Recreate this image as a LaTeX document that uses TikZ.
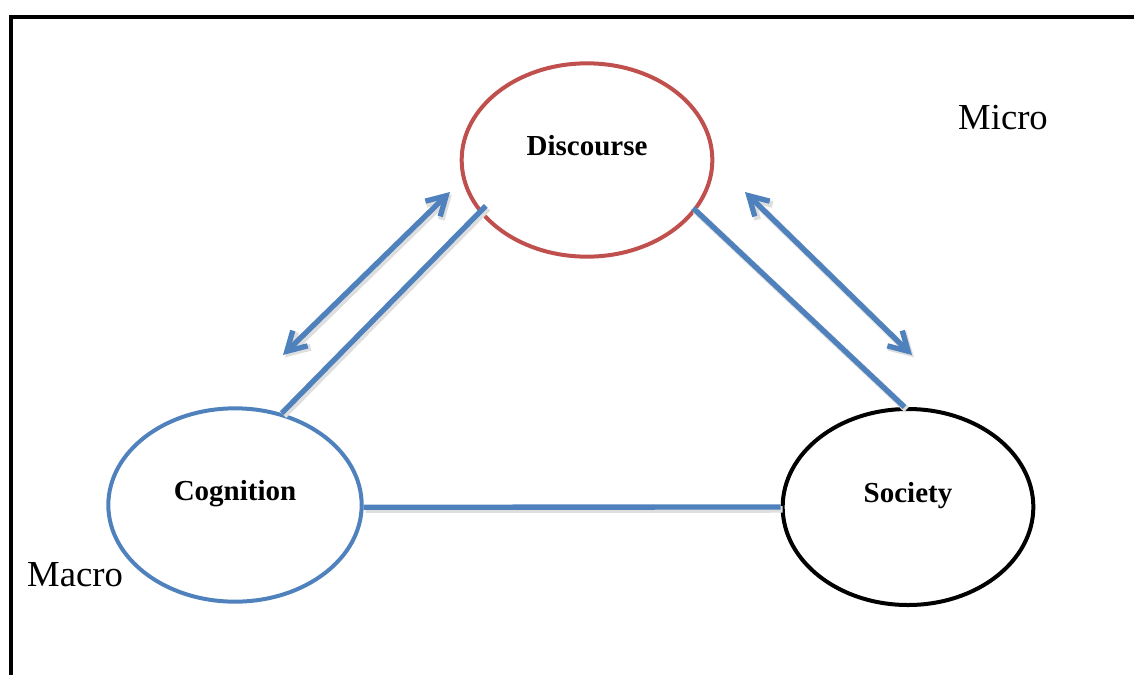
\documentclass[tikz,border=0pt]{standalone}
\usepackage{fontspec}
\setmainfont{Liberation Serif}
\usetikzlibrary{shapes.geometric,arrows.meta}
\definecolor{linkblue}{RGB}{79,129,189}
\definecolor{discred}{RGB}{192,80,77}
\begin{document}
\begin{tikzpicture}[x=0.75pt,y=-0.75pt,
    bubble/.style={ellipse,draw,line width=3pt,inner sep=0pt,
      minimum width=188pt,minimum height=145pt,
      text height=12pt,text depth=19pt,
      font=\fontsize{21.75}{24}\selectfont\bfseries},
    link/.style={linkblue,line width=4pt,
      preaction={draw=black!13,line width=5pt,transform canvas={shift={(1.5pt,-1.8pt)}}}},
    twoway/.style={link,{Straight Barb[length=14pt,width=16pt]}-{Straight Barb[length=14pt,width=16pt]}},
    scale label/.style={font=\fontsize{27.5}{30}\selectfont}]
    \useasboundingbox (0,0) rectangle (1134,675);

    % Frame
    \draw[line width=2.4pt] (11,675) -- (11,17) -- (1134,17);

    % Ellipses
    \node[bubble,draw=discred] (disc) at (587,160) {Discourse};
    \node[bubble,draw=linkblue,minimum width=190pt] (cog) at (235,505) {Cognition};
    \node[bubble,draw=black,minimum height=147pt] (soc) at (908,507) {Society};

    % Levels
    \node[scale label] (micro) at (1003,118) {Micro};
    \node[scale label] (macro) at (75,575) {Macro};

    % Triangle
    \draw[link,shorten >=-7pt] (cog.63) -- (disc.206);
    \draw[link,shorten <=-3pt] (disc.335) -- (soc.92);
    \draw[link] (cog.-1) -- (soc.west);

    % Double arrows
    \coordinate (ldown) at (283,355);
    \coordinate (lup) at (450,192);
    \coordinate (rup) at (745,192);
    \coordinate (rdown) at (912,355);
    \draw[twoway] (ldown) -- (lup);
    \draw[twoway] (rup) -- (rdown);
\end{tikzpicture}
\end{document}
